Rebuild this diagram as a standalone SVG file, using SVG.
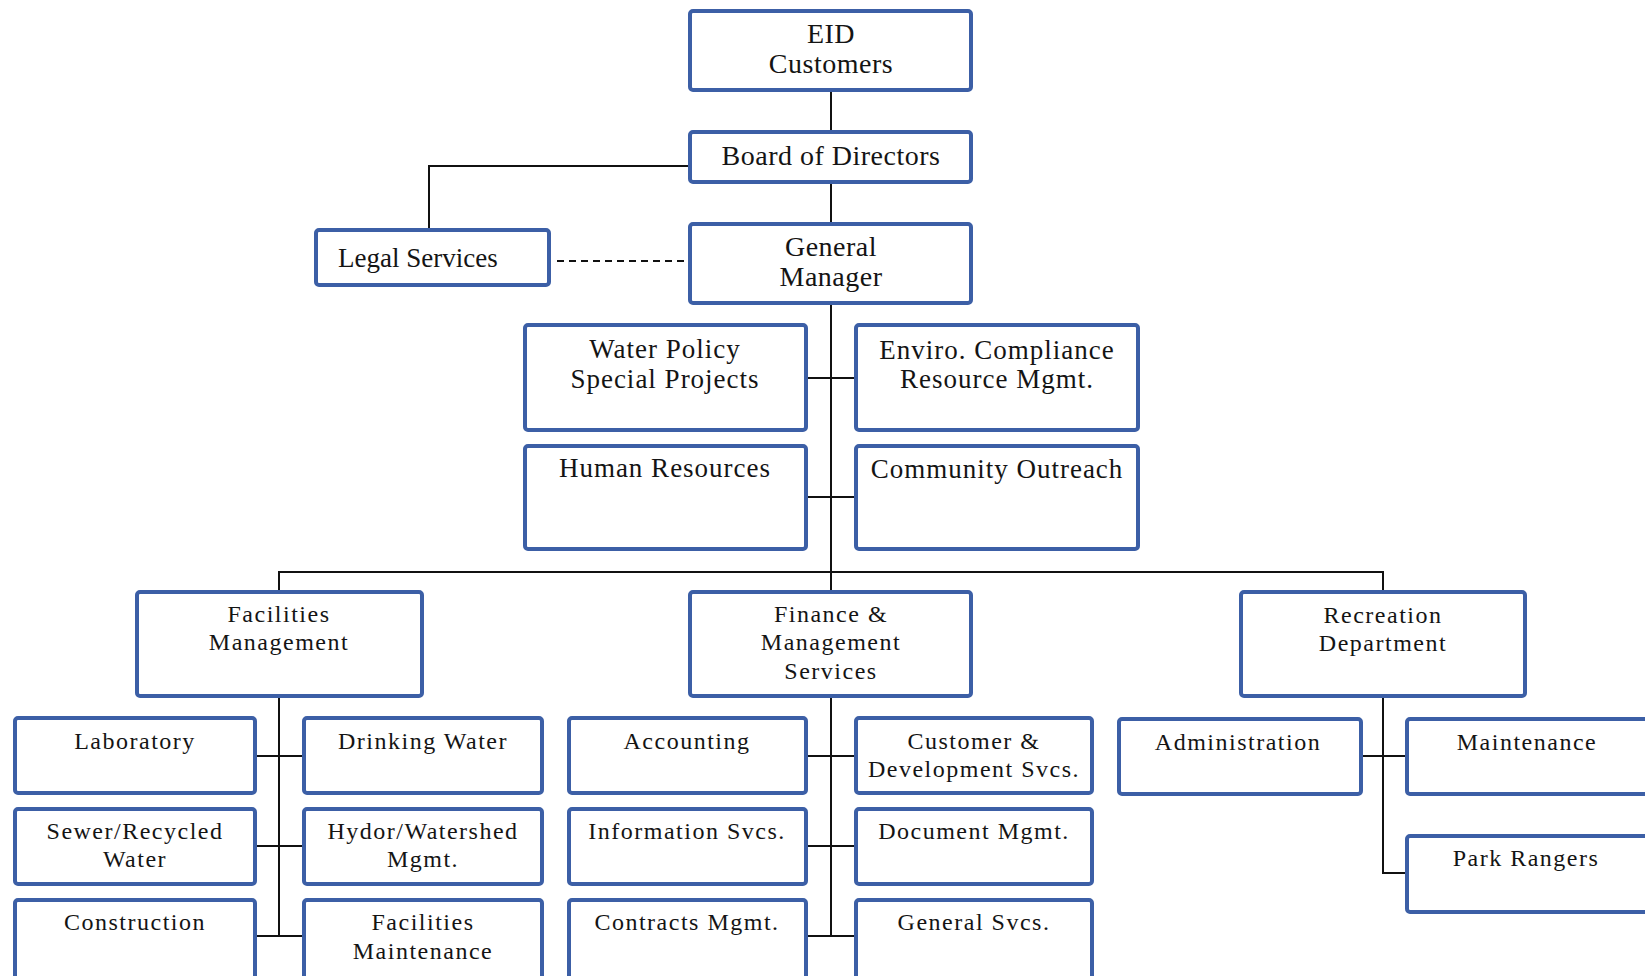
<svg xmlns="http://www.w3.org/2000/svg" width="1645" height="976" viewBox="0 0 1645 976">
<defs>
<style>
.box{fill:#ffffff;stroke:#3c5fa6;stroke-width:4;}
.t1{font-family:"Liberation Serif","Times New Roman",serif;font-size:28px;letter-spacing:0.5px;fill:#141414;text-anchor:middle;}
.t2{font-family:"Liberation Serif","Times New Roman",serif;font-size:27px;letter-spacing:1px;fill:#141414;text-anchor:middle;}
.t3{font-family:"Liberation Serif","Times New Roman",serif;font-size:24px;letter-spacing:1.5px;fill:#141414;text-anchor:middle;}
.ln{fill:none;stroke:#111111;stroke-width:2;}
.dash{fill:none;stroke:#111111;stroke-width:2;stroke-dasharray:7 5;}
</style>
</defs>
<rect width="1645" height="976" fill="#ffffff"/>
<g id="connectors">
<path class="ln" d="M831 90V132"/>
<path class="ln" d="M831 182V224"/>
<path class="ln" d="M690 166H429V230"/>
<path class="dash" d="M557 261H690"/>
<path class="ln" d="M831 303V592"/>
<path class="ln" d="M806 378H856"/>
<path class="ln" d="M806 497H856"/>
<path class="ln" d="M279 592V572H1383V592"/>
<path class="ln" d="M279 696V936"/>
<path class="ln" d="M255 756H304M255 846H304M255 936H304"/>
<path class="ln" d="M831 696V936"/>
<path class="ln" d="M806 756H856M806 846H856M806 936H856"/>
<path class="ln" d="M1383 696V873H1407"/>
<path class="ln" d="M1361 756H1407"/>
</g>
<g id="eid"><rect class="box" x="690" y="11" width="281" height="79" rx="3"/><text class="t1" x="831" y="43">EID</text><text class="t1" x="831" y="73">Customers</text></g>
<g id="board"><rect class="box" x="690" y="132" width="281" height="50" rx="3"/><text class="t1" x="831" y="165">Board of Directors</text></g>
<g id="gm"><rect class="box" x="690" y="224" width="281" height="79" rx="3"/><text class="t1" x="831" y="256">General</text><text class="t1" x="831" y="286">Manager</text></g>
<g id="legal"><rect class="box" x="316" y="230" width="233" height="55" rx="3"/><text class="t1" x="338" y="267" style="text-anchor:start;font-size:27px;letter-spacing:0px">Legal Services</text></g>
<g id="water-policy"><rect class="box" x="525" y="325" width="281" height="105" rx="3"/><text class="t2" x="665" y="358">Water Policy</text><text class="t2" x="665" y="388">Special Projects</text></g>
<g id="enviro"><rect class="box" x="856" y="325" width="282" height="105" rx="3"/><text class="t2" x="997" y="359">Enviro. Compliance</text><text class="t2" x="997" y="388">Resource Mgmt.</text></g>
<g id="hr"><rect class="box" x="525" y="446" width="281" height="103" rx="3"/><text class="t2" x="665" y="477">Human Resources</text></g>
<g id="community"><rect class="box" x="856" y="446" width="282" height="103" rx="3"/><text class="t2" x="997" y="478">Community Outreach</text></g>
<g id="facilities-mgmt"><rect class="box" x="137" y="592" width="285" height="104" rx="3"/><text class="t3" x="279" y="622">Facilities</text><text class="t3" x="279" y="650">Management</text></g>
<g id="finance"><rect class="box" x="690" y="592" width="281" height="104" rx="3"/><text class="t3" x="831" y="622">Finance &amp;</text><text class="t3" x="831" y="650">Management</text><text class="t3" x="831" y="679">Services</text></g>
<g id="recreation"><rect class="box" x="1241" y="592" width="284" height="104" rx="3"/><text class="t3" x="1383" y="623">Recreation</text><text class="t3" x="1383" y="651">Department</text></g>
<g id="laboratory"><rect class="box" x="15" y="718" width="240" height="75" rx="3"/><text class="t3" x="135" y="749">Laboratory</text></g>
<g id="drinking-water"><rect class="box" x="304" y="718" width="238" height="75" rx="3"/><text class="t3" x="423" y="749">Drinking Water</text></g>
<g id="sewer"><rect class="box" x="15" y="809" width="240" height="75" rx="3"/><text class="t3" x="135" y="839">Sewer/Recycled</text><text class="t3" x="135" y="867">Water</text></g>
<g id="hydro"><rect class="box" x="304" y="809" width="238" height="75" rx="3"/><text class="t3" x="423" y="839">Hydor/Watershed</text><text class="t3" x="423" y="867">Mgmt.</text></g>
<g id="construction"><rect class="box" x="15" y="900" width="240" height="82" rx="3"/><text class="t3" x="135" y="930">Construction</text></g>
<g id="facilities-maint"><rect class="box" x="304" y="900" width="238" height="82" rx="3"/><text class="t3" x="423" y="930">Facilities</text><text class="t3" x="423" y="959">Maintenance</text></g>
<g id="accounting"><rect class="box" x="569" y="718" width="237" height="75" rx="3"/><text class="t3" x="687" y="749">Accounting</text></g>
<g id="customer-dev"><rect class="box" x="856" y="718" width="236" height="75" rx="3"/><text class="t3" x="974" y="749">Customer &amp;</text><text class="t3" x="974" y="777">Development Svcs.</text></g>
<g id="info-svcs"><rect class="box" x="569" y="809" width="237" height="75" rx="3"/><text class="t3" x="687" y="839">Information Svcs.</text></g>
<g id="document-mgmt"><rect class="box" x="856" y="809" width="236" height="75" rx="3"/><text class="t3" x="974" y="839">Document Mgmt.</text></g>
<g id="contracts-mgmt"><rect class="box" x="569" y="900" width="237" height="82" rx="3"/><text class="t3" x="687" y="930">Contracts Mgmt.</text></g>
<g id="general-svcs"><rect class="box" x="856" y="900" width="236" height="82" rx="3"/><text class="t3" x="974" y="930">General Svcs.</text></g>
<g id="administration"><rect class="box" x="1119" y="719" width="242" height="75" rx="3"/><text class="t3" x="1238" y="750">Administration</text></g>
<g id="maintenance"><rect class="box" x="1407" y="719" width="245" height="75" rx="3"/><text class="t3" x="1527" y="750">Maintenance</text></g>
<g id="park-rangers"><rect class="box" x="1407" y="836" width="245" height="76" rx="3"/><text class="t3" x="1526" y="866">Park Rangers</text></g>
</svg>
